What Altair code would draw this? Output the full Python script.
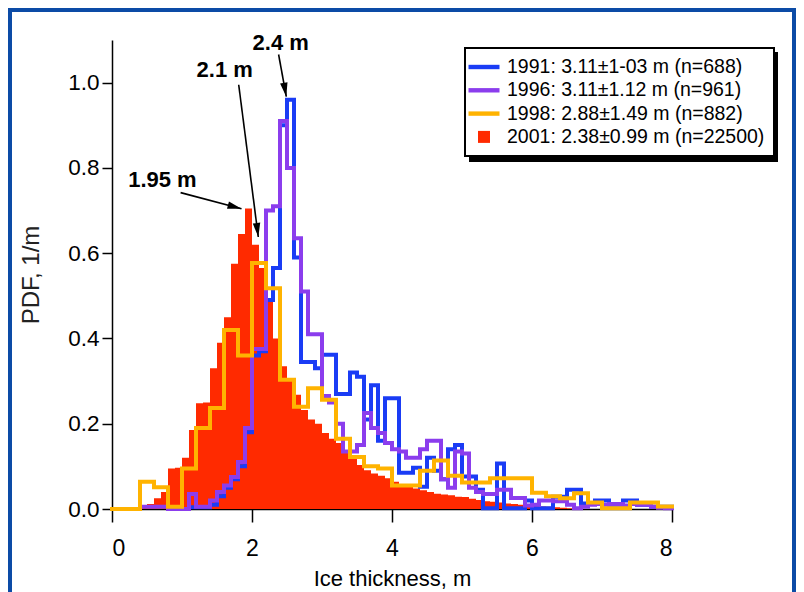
import math
import altair as alt
import pandas as pd

# ---------------- data ----------------
LABELS = [
    "1991: 3.11±1-03 m (n=688)",
    "1996: 3.11±1.12 m (n=961)",
    "1998: 2.88±1.49 m (n=882)",
    "2001: 2.38±0.99 m (n=22500)",
]
COLORS = ["#1a3cf5", "#8b3ded", "#ffb300", "#ff2a00"]
LEGEND_SHAPES = ["M-1.55,-0.22H1.55V0.22H-1.55Z", "M-1.55,-0.22H1.55V0.22H-1.55Z",
                 "M-1.55,-0.22H1.55V0.22H-1.55Z", "M-0.6,-0.6H0.6V0.6H-0.6Z"]

# 1991, bins of 0.1 m starting at 1.1 m
BLUE_START, BLUE_STEP = 1.1, 0.1
BLUE = [0.004, 0.004, 0.004, 0.01, 0.03, 0.05, 0.07, 0.10, 0.18, 0.36,
        0.37, 0.49, 0.565, 0.90, 0.96, 0.59, 0.345, 0.345, 0.33, 0.362,
        0.362, 0.27, 0.27, 0.32, 0.31, 0.21, 0.29, 0.16, 0.26, 0.26,
        0.085, 0.085, 0.097, 0.052, 0.12, 0.09, 0.07, 0.14, 0.15, 0.076,
        0.076, 0.045, 0.002, 0.002, 0.107, 0.002, 0.002, 0.002, 0.02, 0.002,
        0.002, 0.002, 0.029, 0.029, 0.045, 0.045, 0.013, 0.013, 0.02, 0.02,
        0.01, 0.01, 0.02, 0.02, 0.01, 0.01, 0.005, 0.005, 0.005]

# 1996, bins of 0.1 m starting at 0.4 m
PURPLE_START, PURPLE_STEP = 0.4, 0.1
PURPLE = [0.005, 0.005, 0.005, 0.005, 0.0, 0.0, 0.0, 0.035, 0.005, 0.005,
          0.02, 0.04, 0.055, 0.075, 0.11, 0.19, 0.375, 0.375, 0.70, 0.71,
          0.91, 0.80, 0.635, 0.51, 0.41, 0.41, 0.265, 0.25, 0.20, 0.135,
          0.135, 0.15, 0.225, 0.19, 0.178, 0.155, 0.14, 0.135, 0.12, 0.12,
          0.14, 0.16, 0.16, 0.07, 0.05, 0.135, 0.13, 0.05, 0.04, 0.035,
          0.035, 0.045, 0.045, 0.026, 0.026, 0.008, 0.01, 0.02, 0.02, 0.018,
          0.018, 0.01, 0.002, 0.005, 0.01, 0.012, 0.01, 0.012, 0.012, 0.008,
          0.012, 0.01, 0.01, 0.005, 0.003, 0.002]

# 1998, bins of 0.2 m starting at 0 m
ORANGE_START, ORANGE_STEP = 0.0, 0.2
ORANGE = [0.0, 0.0, 0.064, 0.051, 0.005, 0.095, 0.19, 0.237, 0.42, 0.36,
          0.577, 0.518, 0.303, 0.24, 0.283, 0.256, 0.165, 0.122, 0.10, 0.095,
          0.055, 0.055, 0.09, 0.114, 0.078, 0.062, 0.062, 0.072, 0.072, 0.072,
          0.038, 0.03, 0.025, 0.037, 0.015, 0.002, 0.002, 0.015, 0.015, 0.006]

# 2001, bins of 0.1 m starting at 0.4 m
RED_START, RED_STEP = 0.4, 0.1
RED = [0.005, 0.012, 0.025, 0.04, 0.095, 0.097, 0.12, 0.185, 0.248, 0.25,
       0.33, 0.39, 0.45, 0.575, 0.645, 0.705, 0.62, 0.565, 0.49, 0.40,
       0.335, 0.30, 0.268, 0.232, 0.21, 0.20, 0.178, 0.165, 0.155, 0.138,
       0.121, 0.103, 0.091, 0.083, 0.078, 0.072, 0.064, 0.055, 0.052, 0.048,
       0.044, 0.040, 0.036, 0.034, 0.032, 0.029, 0.028, 0.024, 0.021, 0.018,
       0.017, 0.015, 0.013, 0.012, 0.010, 0.009, 0.007, 0.006, 0.005, 0.004,
       0.003, 0.002]

# annotations: text and arrows (data units)
ANN_TEXT = ["2.4 m", "2.1 m", "1.95 m"]
ANN_X = [2.41, 1.61, 0.72]
ANN_Y = [1.094, 1.03, 0.772]
ARROW_X0 = [2.38, 1.81, 0.98]
ARROW_Y0 = [1.066, 0.995, 0.742]
ARROW_X1 = [2.49, 2.09, 1.85]
ARROW_Y1 = [0.967, 0.638, 0.704]

X_TICKS = [0, 2, 4, 6, 8]
Y_TICKS = [0.0, 0.2, 0.4, 0.6, 0.8, 1.0]

# ---------------- layout ----------------
W, H = 560, 469
XMAX, YMAX = 8.0, 1.1
FONT = "Liberation Sans"
FRAME_BLUE = "#0c4ba6"


def step_rows(label, start, step, values, lead_zero=True):
    rows = []
    o = 0
    if lead_zero:
        rows.append({"series": label, "x": start, "v": 0.0, "o": o})
        o += 1
    for i, v in enumerate(values):
        rows.append({"series": label, "x": round(start + i * step, 4), "v": v, "o": o})
        o += 1
    rows.append({"series": label, "x": round(start + len(values) * step, 4),
                 "v": values[-1], "o": o})
    return pd.DataFrame(rows)


blue_df = step_rows(LABELS[0], BLUE_START, BLUE_STEP, BLUE)
purple_df = step_rows(LABELS[1], PURPLE_START, PURPLE_STEP, PURPLE)
orange_df = step_rows(LABELS[2], ORANGE_START, ORANGE_STEP, ORANGE)
red_df = step_rows(LABELS[3], RED_START, RED_STEP, RED, lead_zero=False)

xs = alt.Scale(domain=[0, XMAX], nice=False, zero=False)
ys = alt.Scale(domain=[0, YMAX], nice=False)

legend_kw = dict(
    title=None, orient="none", legendX=353, legendY=8, direction="vertical",
    strokeColor="black", fillColor="white", padding=9,
    labelFont=FONT, labelFontSize=19.5, labelColor="black", labelOffset=13,
    labelLimit=0, rowPadding=3.3, symbolSize=400, symbolOpacity=1,
    symbolStrokeWidth=0,
)

xenc = alt.X("x:Q", scale=xs, title="Ice thickness, m",
             axis=alt.Axis(values=X_TICKS, format="d", grid=False, tickSize=13,
                           labelFontSize=23, labelPadding=15, titleFontSize=22,
                           titlePadding=8, titleFontWeight="normal"))
yenc = alt.Y("v:Q", scale=ys, title="PDF, 1/m",
             axis=alt.Axis(values=Y_TICKS, format=".1f", grid=False, tickSize=10,
                           labelFontSize=22.5, labelPadding=3, titleFontSize=24,
                           titlePadding=24, titleFontWeight="normal", titleColor="#222"))

# blue slide frame around the whole picture (decoration)
frame = alt.Chart(pd.DataFrame({"a": [0]})).mark_rect(
    fill="transparent", stroke=FRAME_BLUE, strokeWidth=8).encode(
    x=alt.value(-104), x2=alt.value(684), y=alt.value(-32), y2=alt.value(600))

# drop shadow of the legend box (decoration)
shadow = alt.Chart(pd.DataFrame({"a": [0]})).mark_rect(color="black").encode(
    x=alt.value(357), x2=alt.value(666), y=alt.value(12), y2=alt.value(122))

red = alt.Chart(red_df).mark_area(interpolate="step-after", opacity=1,
                                  color=COLORS[3]).encode(x=xenc, y=yenc, order="o:Q")


def line_layer(df, col):
    return alt.Chart(df).mark_line(interpolate="step-after", strokeWidth=4, color=col,
                                   strokeJoin="miter", strokeCap="square").encode(
        x=alt.X("x:Q", scale=xs), y=alt.Y("v:Q", scale=ys), order="o:Q")


blue = line_layer(blue_df, COLORS[0])
purple = line_layer(purple_df, COLORS[1])
orange = line_layer(orange_df, COLORS[2])

# hidden (clipped, out-of-domain) points that only carry the legend
key_df = pd.DataFrame({"series": LABELS, "x": [-1.0] * 4, "v": [-1.0] * 4})
key = alt.Chart(key_df).mark_point(filled=True, clip=True, size=400, opacity=1).encode(
    x=alt.X("x:Q", scale=xs), y=alt.Y("v:Q", scale=ys),
    color=alt.Color("series:N", scale=alt.Scale(domain=LABELS, range=COLORS),
                    legend=alt.Legend(**legend_kw)),
    shape=alt.Shape("series:N", scale=alt.Scale(domain=LABELS, range=LEGEND_SHAPES),
                    legend=alt.Legend(**legend_kw)),
)

ann_df = pd.DataFrame({"t": ANN_TEXT, "x": ANN_X, "v": ANN_Y})
texts = alt.Chart(ann_df).mark_text(font=FONT, fontSize=22, fontWeight="bold",
                                    color="black").encode(
    x=alt.X("x:Q", scale=xs), y=alt.Y("v:Q", scale=ys), text="t:N")

px_x, px_y = W / XMAX, H / YMAX
angles = []
for x0, y0, x1, y1 in zip(ARROW_X0, ARROW_Y0, ARROW_X1, ARROW_Y1):
    dx = (x1 - x0) * px_x
    dy = -(y1 - y0) * px_y
    angles.append(math.degrees(math.atan2(dx, -dy)) % 360)
arr_df = pd.DataFrame({"x": ARROW_X0, "v": ARROW_Y0, "x2": ARROW_X1, "v2": ARROW_Y1,
                       "ang": angles})
shafts = alt.Chart(arr_df).mark_rule(color="black", strokeWidth=1.6).encode(
    x=alt.X("x:Q", scale=xs), y=alt.Y("v:Q", scale=ys), x2="x2:Q", y2="v2:Q")
heads = alt.Chart(arr_df).mark_point(shape="M0,0L-0.75,2.8L0.75,2.8Z", filled=True,
                                     color="black", opacity=1, size=100).encode(
    x=alt.X("x2:Q", scale=xs), y=alt.Y("v2:Q", scale=ys),
    angle=alt.Angle("ang:Q", scale=None))

chart = alt.layer(frame, shadow, red, blue, purple, orange, key, shafts, heads,
                  texts).properties(
    width=W, height=H,
    autosize=alt.AutoSizeParams(type="none"),
    padding={"left": 104, "top": 32, "right": 124, "bottom": 83},
    background="white",
).configure_view(stroke=None).configure_axis(
    labelFont=FONT, titleFont=FONT, labelColor="black", titleColor="black",
    domainColor="black", tickColor="black", domainWidth=1.5, tickWidth=1.5,
).configure_legend(strokeWidth=2).configure_text(font=FONT)

chart.save("out.html", embed_options={"renderer": "svg", "actions": False})
